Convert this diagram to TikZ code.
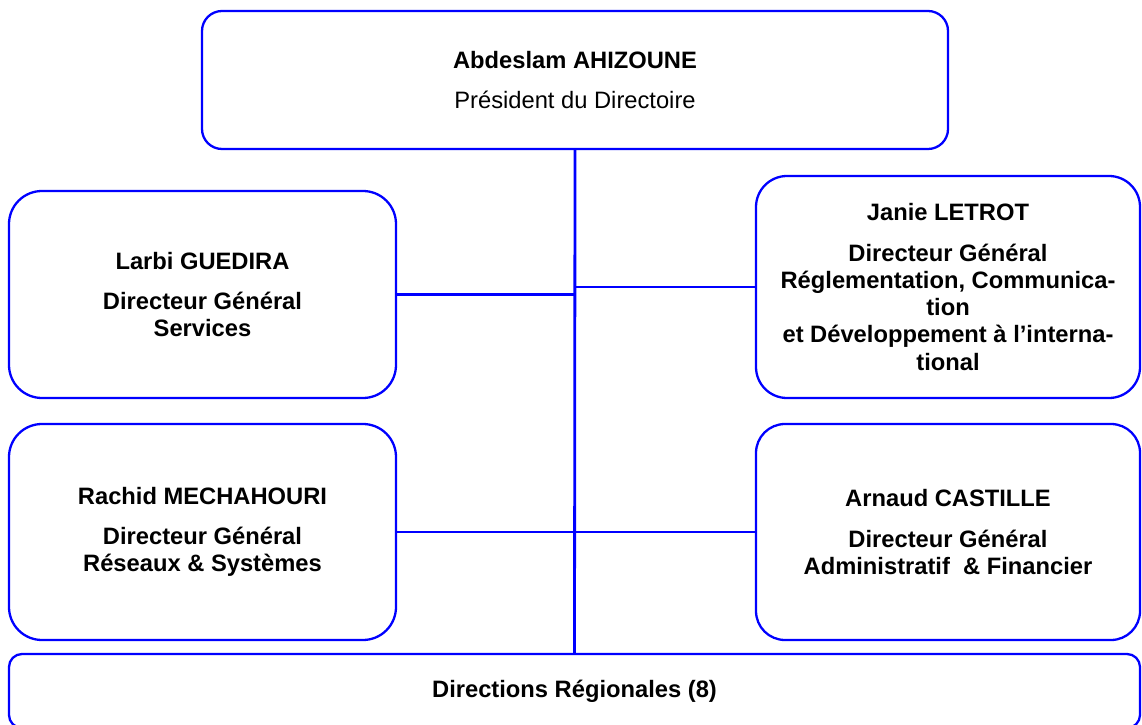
\documentclass[tikz,border=0pt]{standalone}
\usepackage{fontspec}
\setmainfont{Liberation Sans}
\usepackage{tikz}
\usetikzlibrary{positioning}
\usepackage{xcolor}
\definecolor{orgblue}{RGB}{0,0,255}
\tikzset{
  box/.style={draw=orgblue, line width=1.3pt, align=center, inner sep=0pt,
    font=\bfseries\fontsize{13.5}{15.5}\selectfont},
  link/.style={draw=orgblue, line width=1.6pt}
}

\begin{document}
\begin{tikzpicture}
\useasboundingbox (0,0) rectangle (22.84,-14.5);
% Board
\node[box, rounded corners=0.4cm, minimum width=14.92cm, minimum height=2.76cm] (pres) at (11.5,-1.6)
  {Abdeslam AHIZOUNE\\[7pt] \mdseries Président du Directoire};

% General directors
\node[box, rounded corners=0.66cm, minimum width=7.74cm, minimum height=4.14cm] (serv) at (4.05,-5.89)
  {Larbi GUEDIRA\\[7.5pt] Directeur Général\\ Services};
\node[box, rounded corners=0.62cm, minimum width=7.68cm, minimum height=4.44cm] (regl) at (18.96,-5.74)
  {Janie LETROT\\[7.5pt] Directeur Général\\ Réglementation, Communica-\\ tion\\ et Développement à l’interna-\\ tional};
\node[box, rounded corners=0.66cm, minimum width=7.74cm, minimum height=4.32cm] (resx) at (4.05,-10.64)
  {Rachid MECHAHOURI\\[7.5pt] Directeur Général\\ Réseaux \& Systèmes};
\node[box, rounded corners=0.58cm, minimum width=7.68cm, minimum height=4.32cm] (adfi) at (18.96,-10.64)
  {Arnaud CASTILLE\\[7.5pt] Directeur Général\\ Administratif\ \ \& Financier};

% Regions
\node[box, rounded corners=0.26cm, minimum width=22.62cm, minimum height=1.48cm] (regs) at (11.49,-13.82)
  {Directions Régionales (8)};

% Links
\draw[link] (pres.south) -- (regs.north);
\draw[link] (serv.east) -- (serv.east -| pres.south);
\draw[link] (regl.west) -- (regl.west -| pres.south);
\draw[link] (resx.east) -- (adfi.west);
\end{tikzpicture}
\end{document}
